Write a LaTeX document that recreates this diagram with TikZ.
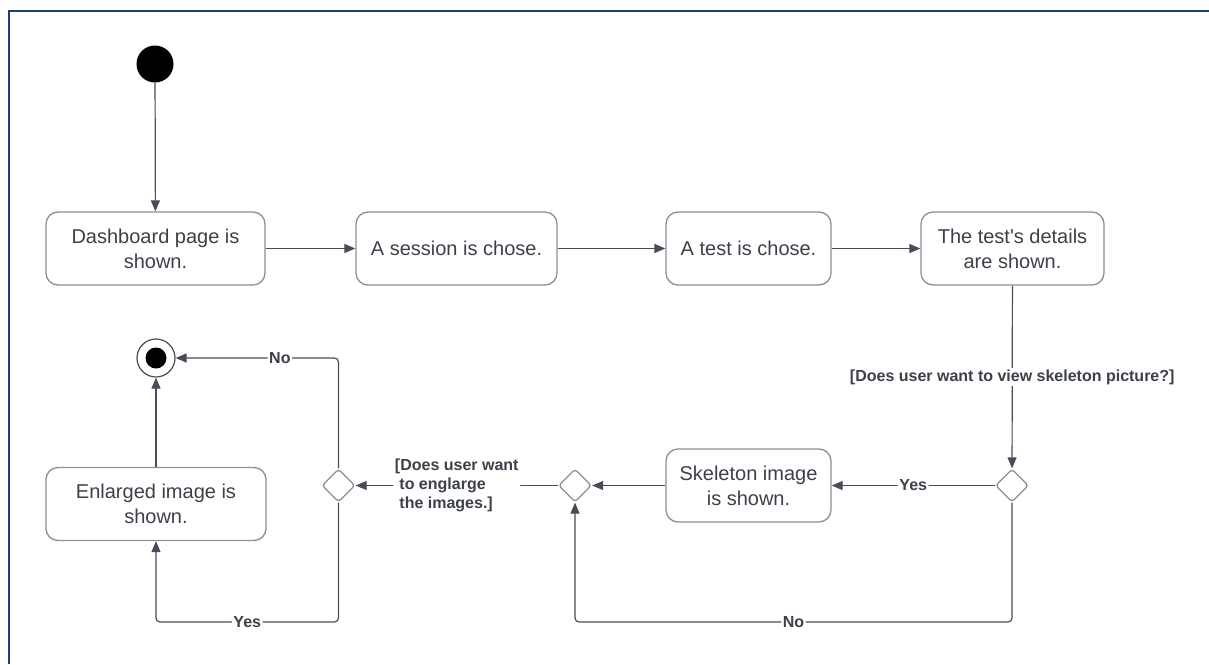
\documentclass[tikz,border=0pt]{standalone}
\usepackage{fontspec}
\setmainfont{Liberation Sans}
\usetikzlibrary{shapes.geometric,arrows.meta}
\definecolor{framecol}{HTML}{1F3C7A}
\definecolor{boxline}{HTML}{8A8F98}
\definecolor{txt}{HTML}{3B4049}
\definecolor{flow}{HTML}{474C57}

\begin{document}
\begin{tikzpicture}[x=1pt,y=-1pt,
  state/.style={draw=boxline, line width=1.3pt, rounded corners=12pt,
    minimum height=73pt, text=txt, font=\fontsize{20}{25}\selectfont,
    align=center, inner sep=0pt},
  choice/.style={diamond, draw=boxline, line width=1.3pt, rounded corners=3pt,
    minimum width=33pt, minimum height=33pt, inner sep=0pt, fill=white},
  flowline/.style={draw=flow, line width=1.2pt,
    -{Triangle[length=11pt,width=9pt]}, rounded corners=4pt},
  guard/.style={fill=white, text=txt, font=\fontsize{16}{19}\selectfont\bfseries,
    inner sep=1.5pt},
]
\useasboundingbox (0,0) rectangle (1209,664);

% page frame (top and left edges)
\draw[framecol, line width=2pt] (9,664) -- (9,11) -- (1209,11);

% initial and final states
\node[circle, fill=black, minimum size=37pt, inner sep=0pt] (start) at (155,64) {};
\node[circle, draw=flow, line width=1.2pt, fill=white, minimum size=38pt, inner sep=0pt] (end) at (156,358) {};
\fill[black] (end.center) circle (10.5pt);

% activities
\node[state, minimum width=219pt] (dash) at (155.5,248.5) {Dashboard page is\\shown.};
\node[state, minimum width=201pt] (sess) at (456.5,248.5) {A session is chose.};
\node[state, minimum width=165pt] (test) at (748.5,248.5) {A test is chose.};
\node[state, minimum width=183pt] (det) at (1012.5,248.5) {The test\textquotesingle s details\\are shown.};
\node[state, minimum width=165pt] (skel) at (748.5,485.5) {Skeleton image\\is shown.};
\node[state, minimum width=220pt] (enl) at (156,504) {Enlarged image is\\shown.};

% decisions
\node[choice] (d1) at (1012,485.5) {};
\node[choice] (d2) at (575,485.5) {};
\node[choice] (d3) at (338.5,485.5) {};

\coordinate (lowrow) at (0,622);

% flow
\draw[flowline] (start) -- (dash);
\draw[flowline] (dash) -- (sess);
\draw[flowline] (sess) -- (test);
\draw[flowline] (test) -- (det);
\draw[flowline] (det) -- node[guard]{[Does user want to view skeleton picture?]} (d1);
\draw[flowline] (d1) -- node[guard]{Yes} (skel);
\draw[flowline] (d1.south) -- (d1.south |- lowrow) -- node[guard]{No} (d2.south |- lowrow) -- (d2.south);
\draw[flowline] (skel) -- (d2);
\draw[flowline] (d2) -- node[guard, align=left]{[Does user want\\\hspace{4.5pt}to englarge\\\hspace{4.5pt}the images.]} (d3);
\draw[flowline] (d3.north) |- node[guard, pos=0.68]{No} (end);
\draw[flowline] (d3.south) -- (d3.south |- lowrow) -- node[guard]{Yes} (enl.south |- lowrow) -- (enl.south);
\draw[flowline] (enl) -- (end);
\end{tikzpicture}
\end{document}
